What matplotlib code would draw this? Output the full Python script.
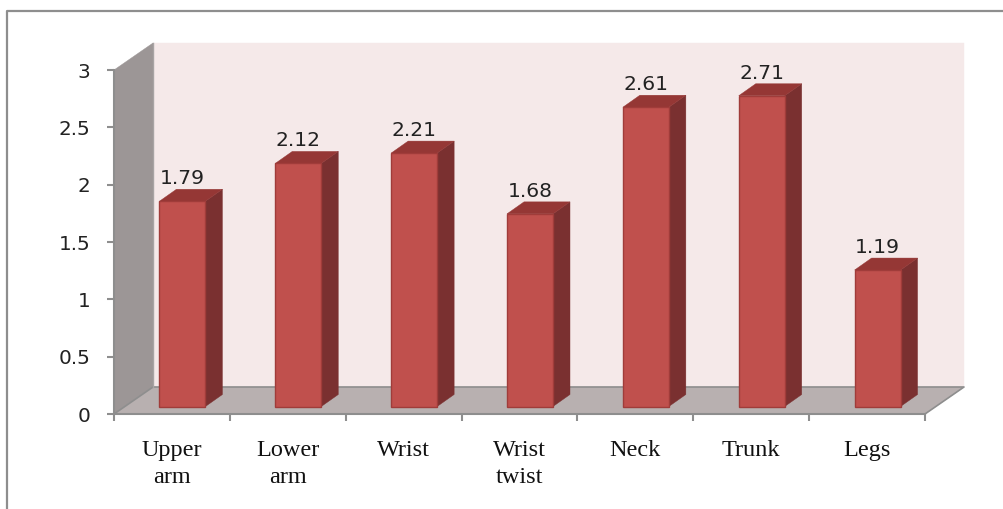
import matplotlib
matplotlib.use('Agg')
import matplotlib.pyplot as plt
from matplotlib.lines import Line2D
from matplotlib.patches import Polygon

# data
categories = ['Upper\narm', 'Lower\narm', 'Wrist', 'Wrist\ntwist', 'Neck', 'Trunk', 'Legs']
values = [1.79, 2.12, 2.21, 1.68, 2.61, 2.71, 1.19]
y_ticks = [0, 0.5, 1, 1.5, 2, 2.5, 3]
y_labels = ['0', '0.5', '1', '1.5', '2', '2.5', '3']

W, H = 1004, 509
AX_L, AX_R, AX_B, AX_T = 114, 925, 414, 70

# 3d look: everything is sheared by these, in data units
px_x = 7 / (AX_R - AX_L)
px_y = 3 / (AX_B - AX_T)
DEPTH_X = 39 * px_x
DEPTH_Y = 27 * px_y
BAR_DX = 10.5 * px_x
BAR_DY = 7.5 * px_y
BAR_W = 46 * px_x
SIDE_X = 17 * px_x
SIDE_Y = 12 * px_y

GREY = '#8e8e8e'
WALL = '#f5e9e9'
LEFT_WALL = '#9c9696'
FLOOR = '#b8b0b0'
FRONT = '#c0504d'
SIDE = '#7a3030'
TOP = '#953735'
EDGE = '#a03c3a'


def add_poly(ax, pts, color, edge=None, z=1):
	ax.add_patch(Polygon(pts, closed=True, facecolor=color, edgecolor=edge or color,
		linewidth=1.0 if edge else 0.3, clip_on=False, zorder=z))


def draw_bar(ax, i, val):
	x0 = i + 0.5 + BAR_DX - BAR_W / 2
	x1 = x0 + BAR_W
	y0 = BAR_DY
	y1 = BAR_DY + val
	add_poly(ax, [(x1, y0), (x1 + SIDE_X, y0 + SIDE_Y), (x1 + SIDE_X, y1 + SIDE_Y), (x1, y1)], SIDE, z=4)
	add_poly(ax, [(x0, y1), (x1, y1), (x1 + SIDE_X, y1 + SIDE_Y), (x0 + SIDE_X, y1 + SIDE_Y)], TOP, z=4)
	add_poly(ax, [(x0, y0), (x1, y0), (x1, y1), (x0, y1)], FRONT, edge=EDGE, z=5)
	ax.text(i + 0.5 + BAR_DX, y1 + SIDE_Y + 1 * px_y, '%.2f' % val, ha='center', va='bottom',
		fontsize=14.6, color='#222222', zorder=6)


fig = plt.figure(figsize=(W / 100, H / 100), dpi=100)
fig.patch.set_facecolor('white')
ax = fig.add_axes([AX_L / W, 1 - AX_B / H, (AX_R - AX_L) / W, (AX_B - AX_T) / H])
ax.patch.set_visible(False)
ax.set_xlim(0, len(values))
ax.set_ylim(0, 3)

# walls and floor
add_poly(ax, [(DEPTH_X, DEPTH_Y), (7 + DEPTH_X, DEPTH_Y), (7 + DEPTH_X, 3 + DEPTH_Y), (DEPTH_X, 3 + DEPTH_Y)], WALL)
add_poly(ax, [(0, 0), (DEPTH_X, DEPTH_Y), (DEPTH_X, 3 + DEPTH_Y), (0, 3)], LEFT_WALL)
add_poly(ax, [(0, 0), (7, 0), (7 + DEPTH_X, DEPTH_Y), (DEPTH_X, DEPTH_Y)], FLOOR)
ax.plot([0, DEPTH_X, 7 + DEPTH_X, 7], [0, DEPTH_Y, DEPTH_Y, 0], color=GREY, lw=1.2, clip_on=False, zorder=2)
ax.plot([DEPTH_X, DEPTH_X], [DEPTH_Y, 3 + DEPTH_Y], color='#a8a4a4', lw=1.0, clip_on=False, zorder=2)

for i, val in enumerate(values):
	draw_bar(ax, i, val)

for side in ['top', 'right']:
	ax.spines[side].set_visible(False)
for side in ['left', 'bottom']:
	ax.spines[side].set_color(GREY)
	ax.spines[side].set_linewidth(1.5)
	ax.spines[side].set_zorder(3)

ax.set_yticks(y_ticks)
ax.set_yticklabels(y_labels, fontsize=14.4, color='#222222')
ax.tick_params(axis='y', length=5, width=1.5, color=GREY, pad=12)

ax.set_xticks(range(len(values) + 1))
ax.set_xticklabels([])
ax.set_xticks([i + 0.5 for i in range(len(values))], minor=True)
ax.set_xticklabels(categories, minor=True, fontsize=17.5, family='Liberation Serif',
	color='#111111', linespacing=1.32)
ax.tick_params(axis='x', which='major', length=5, width=1.5, color=GREY)
ax.tick_params(axis='x', which='minor', length=0, pad=19)

# frame of the original picture, only top and left show
fig.add_artist(Line2D([7.5 / W, 7.5 / W, 1], [0, 1 - 11 / H, 1 - 11 / H], color=GREY, lw=1.6))

fig.savefig('out.png', dpi=100)
